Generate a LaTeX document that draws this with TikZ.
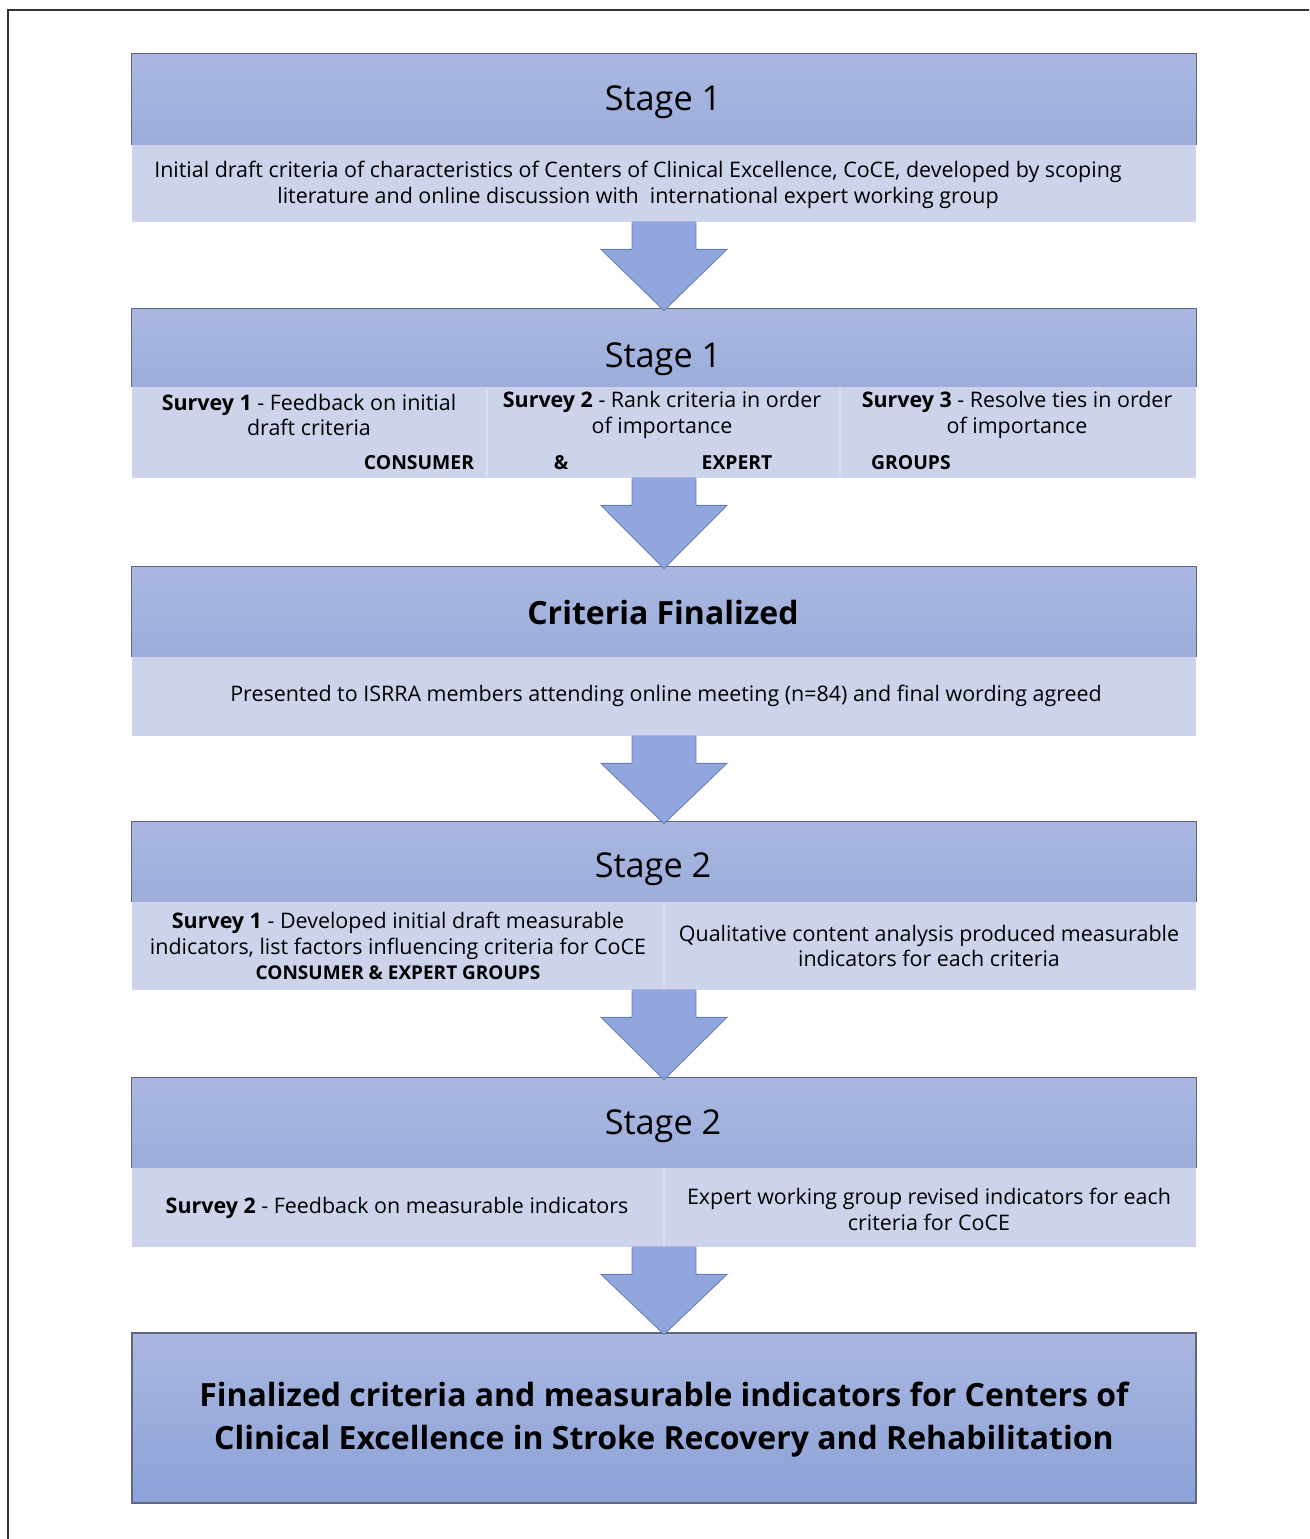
\documentclass[tikz,border=0pt]{standalone}
\usepackage{fontspec}
\setmainfont{Open Sans}
\usetikzlibrary{calc}
\definecolor{hdtop}{HTML}{AAB8E1}
\definecolor{hdbot}{HTML}{9CADDB}
\definecolor{bandfill}{HTML}{CDD3EA}
\definecolor{bandedge}{HTML}{D8DDF0}
\definecolor{hdline}{HTML}{5E6781}
\definecolor{fintop}{HTML}{AAB7E0}
\definecolor{finbot}{HTML}{8CA2D8}
\definecolor{arrowfill}{HTML}{90A6DC}
\definecolor{arrowline}{HTML}{6C7FB5}
\definecolor{frameline}{HTML}{333333}
\newdimen\px \px=0.2mm
\newcommand\flowarrow[2]{%
	\fill[arrowfill] ($(#1.south)+(-32,-1)$) -- ++(0,28) -- ++(-31,0) -- ($(#2.north)+(0,2)$) -- ($(#1.south)+(63,27)$) -- ++(-31,0) -- ++(0,-28) -- cycle;
	\draw[arrowline, line width=0.5pt] ($(#1.south)+(-32,0)$) -- ++(0,27) -- ++(-31,0) -- ($(#2.north)+(0,2)$) -- ($(#1.south)+(63,27)$) -- ++(-31,0) -- ++(0,-27);
}
\tikzset{
	header/.style={rectangle, top color=hdtop, bottom color=hdbot, minimum width=1064\px, minimum height=#1\px, inner sep=0pt},
	band/.style={rectangle, fill=bandfill, minimum width=1064\px, minimum height=#1\px, inner sep=0pt},
	stagetext/.style={font=\fontsize{19.5}{23}\selectfont, inner sep=0pt},
	bodytext/.style={font=\fontsize{12.2}{14.7}\selectfont, align=center, inner sep=0pt},
	tagtext/.style={font=\fontsize{11}{14}\selectfont\bfseries, inner sep=0pt},
	edge/.style={draw=hdline, line width=0.6pt},
}

\begin{document}
\begin{tikzpicture}[x=0.2mm, y=-0.2mm]
	%%%%% START %%%%%
	\useasboundingbox (0,0) rectangle (1309,1539);
	\draw[frameline, line width=0.8pt] (8,1539) |- (1309,10);
	
	% stage 1 - draft
	\node[header=91] (hd1) at (664,99.5) {};
	\node[band=77] (bd1) at (664,183.5) {};
	\draw[edge] (hd1.south west) |- (hd1.north east) -- (hd1.south east);
	\node[stagetext] (st1) at (663,102) {Stage 1};
	\node[bodytext] (tx1) at (638,185) {Initial draft criteria of characteristics of Centers of Clinical Excellence, CoCE, developed by scoping\\literature and online discussion with~ international expert working group};
	
	% stage 1 - surveys
	\node[header=78] (hd2) at (664,348) {};
	\node[band=91] (bd2) at (664,432.5) {};
	\draw[edge] (hd2.south west) |- (hd2.north east) -- (hd2.south east);
	\draw[bandedge, line width=1pt] (487,387) -- (487,478);
	\draw[bandedge, line width=1pt] (840,387) -- (840,478);
	\node[stagetext] (st2) at (663,359) {Stage 1};
	\node[bodytext] (sv1) at (309,415) {\textbf{Survey 1} - Feedback on initial\\draft criteria};
	\node[bodytext] (sv2) at (662,415) {\textbf{Survey 2} - Rank criteria in order\\of importance};
	\node[bodytext] (sv3) at (1017,415) {\textbf{Survey 3} - Resolve ties in order\\of importance};
	\node[tagtext] (tg1) at (419,463) {CONSUMER};
	\node[tagtext] (tg2) at (561,463) {\&};
	\node[tagtext] (tg3) at (737,463) {EXPERT};
	\node[tagtext] (tg4) at (911,463) {GROUPS};
	
	% criteria finalized
	\node[header=90] (hd3) at (664,612) {};
	\node[band=79] (bd3) at (664,696.5) {};
	\draw[edge] (hd3.south west) |- (hd3.north east) -- (hd3.south east);
	\node[stagetext, font=\fontsize{18.2}{21}\selectfont\bfseries] (st3) at (663,612) {Criteria Finalized};
	\node[bodytext] (tx3) at (666,696) {Presented to ISRRA members attending online meeting (n=84) and final wording agreed};
	
	% stage 2 - survey 1
	\node[header=80] (hd4) at (664,862) {};
	\node[band=88] (bd4) at (664,946) {};
	\draw[edge] (hd4.south west) |- (hd4.north east) -- (hd4.south east);
	\draw[bandedge, line width=1pt] (664,902) -- (664,990);
	\node[stagetext] (st4) at (653,869) {Stage 2};
	\node[bodytext] (sv4) at (398,946) {\textbf{Survey 1} - Developed initial draft measurable\\indicators, list factors influencing criteria for CoCE\\{\fontsize{10.8}{14.7}\selectfont\bfseries CONSUMER \& EXPERT GROUPS}};
	\node[bodytext] (tx4) at (929,946) {Qualitative content analysis produced measurable\\indicators for each criteria};
	
	% stage 2 - survey 2
	\node[header=90] (hd5) at (664,1123) {};
	\node[band=79] (bd5) at (664,1207.5) {};
	\draw[edge] (hd5.south west) |- (hd5.north east) -- (hd5.south east);
	\draw[bandedge, line width=1pt] (664,1168) -- (664,1247);
	\node[stagetext] (st5) at (663,1126) {Stage 2};
	\node[bodytext] (sv5) at (397,1208) {\textbf{Survey 2} - Feedback on measurable indicators};
	\node[bodytext] (tx5) at (929,1209) {Expert working group revised indicators for each\\criteria for CoCE};
	
	% outcome
	\node[rectangle, top color=fintop, bottom color=finbot, edge, minimum width=1064\px, minimum height=170\px, inner sep=0pt] (fin) at (664,1418) {};
	\node[font=\fontsize{18.2}{24.4}\selectfont\bfseries, align=center, inner sep=0pt] (fintx) at (664,1420) {Finalized criteria and measurable indicators for Centers of\\Clinical Excellence in Stroke Recovery and Rehabilitation};
	
	% arrows
	\flowarrow{bd1}{hd2}
	\flowarrow{bd2}{hd3}
	\flowarrow{bd3}{hd4}
	\flowarrow{bd4}{hd5}
	\flowarrow{bd5}{fin}
	%%%%% END %%%%%
\end{tikzpicture}
\end{document}
